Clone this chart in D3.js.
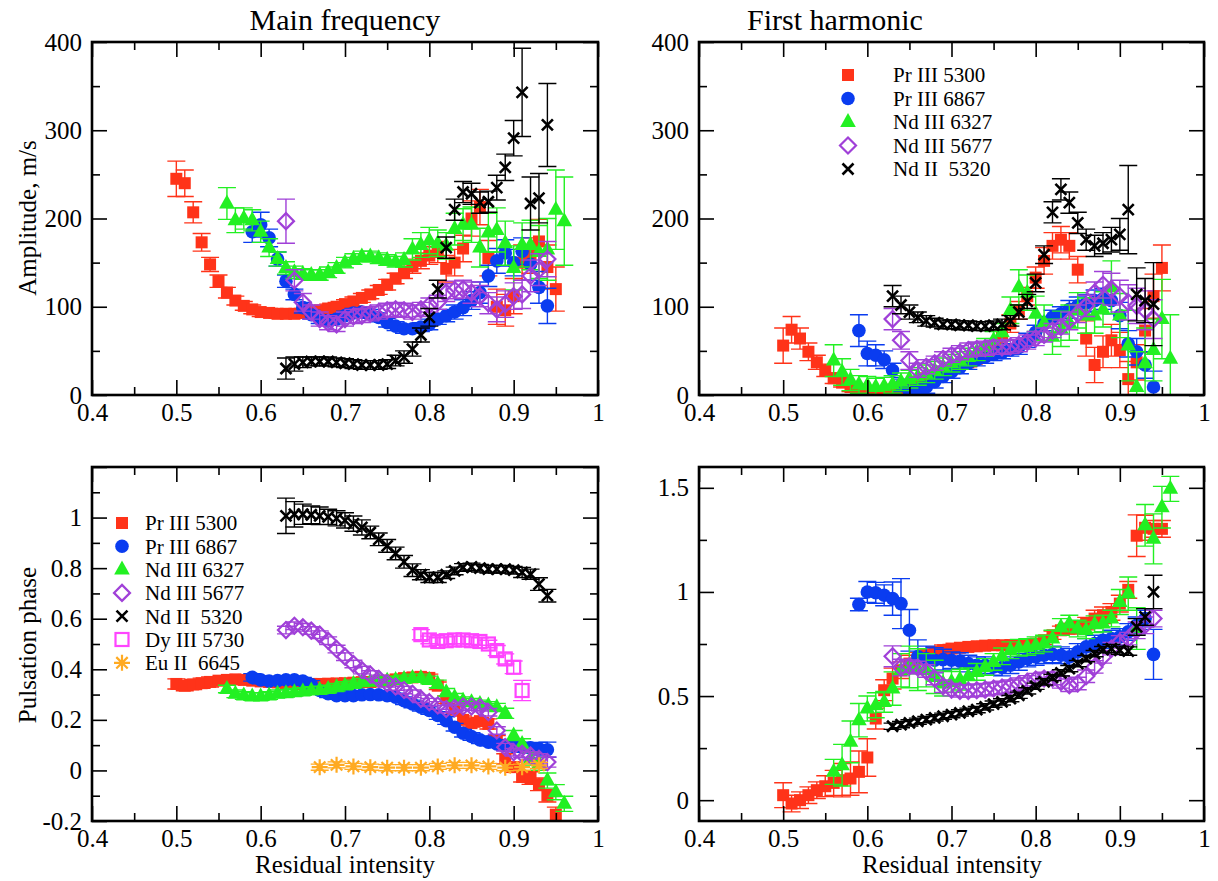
<!DOCTYPE html>
<html><head><meta charset="utf-8">
<script src="https://cdn.jsdelivr.net/npm/d3@7"></script>
<style>body{margin:0;background:#fff}</style>
</head><body><svg id="c" width="1218" height="881"></svg>
<script>
// ---------- x grids (residual intensity) ----------
const xPr5300 = [0.50,0.51,0.52,0.53,0.54,0.55,0.56,0.57,0.58,0.59,0.60,0.61,0.62,0.63,0.64,0.65,0.66,0.67,0.68,0.69,0.70,0.71,0.72,0.73,0.74,0.75,0.76,0.77,0.78,0.79,0.80,0.81,0.82,0.83,0.84,0.85,0.86,0.87,0.88,0.89,0.90,0.91,0.92,0.93,0.94,0.95];
const xPr6867 = [0.59,0.60,0.61,0.62,0.63,0.64,0.65,0.66,0.67,0.68,0.69,0.70,0.71,0.72,0.73,0.74,0.75,0.76,0.77,0.78,0.79,0.80,0.81,0.82,0.83,0.84,0.85,0.86,0.87,0.88,0.89,0.90,0.91,0.92,0.93,0.94];
const xNd6327 = [0.56,0.57,0.58,0.59,0.60,0.61,0.62,0.63,0.64,0.65,0.66,0.67,0.68,0.69,0.70,0.71,0.72,0.73,0.74,0.75,0.76,0.77,0.78,0.79,0.80,0.81,0.82,0.83,0.84,0.85,0.86,0.87,0.88,0.89,0.90,0.91,0.92,0.93,0.94,0.95,0.96];
const xNd5677 = [0.63,0.64,0.65,0.66,0.67,0.68,0.69,0.70,0.71,0.72,0.73,0.74,0.75,0.76,0.77,0.78,0.79,0.80,0.81,0.82,0.83,0.84,0.85,0.86,0.87,0.88,0.89,0.90,0.91,0.92,0.93,0.94];
const xNd5320 = [0.63,0.64,0.65,0.66,0.67,0.68,0.69,0.70,0.71,0.72,0.73,0.74,0.75,0.76,0.77,0.78,0.79,0.80,0.81,0.82,0.83,0.84,0.85,0.86,0.87,0.88,0.89,0.90,0.91,0.92,0.93,0.94];
const xDy5730 = [0.79,0.80,0.81,0.82,0.83,0.84,0.85,0.86,0.87,0.88,0.89,0.90,0.91];
const xEu6645 = [0.67,0.69,0.71,0.73,0.75,0.77,0.79,0.81,0.83,0.85,0.87,0.89,0.91,0.93];

// ---------- Amplitude, main frequency ----------
const ampMain_Pr5300 = [245,240,207,173,148,129,116,107,101,97, 94,93,92,92,92,93,94,96,98,100, 103,106,110,114,119,125,132,139,146,152, 158,162,143,150,166,200,213,155,100,96, 112,150,158,174,145,120];
const ampMain_Pr5300_err = [20,15,12,10,8,7,6,5,5,5, 5,5,5,5,5,5,5,5,5,5, 5,5,5,5,5,6,6,7,8,9, 10,12,15,15,15,20,20,20,20,18, 20,20,20,25,25,25];
const ampMain_Pr6867 = [185,193,178,154,129,114,99,91,86,84, 86,90,93,94,92,88,82,78,75,75, 77,80,86,90,94,99,107,116,135,152, 161,150,163,148,122,101];
const ampMain_Pr6867_err = [12,14,10,8,7,6,6,5,5,5, 5,5,5,5,5,5,5,5,5,5, 5,6,6,7,8,9,10,12,12,14, 15,15,15,18,18,20];
const ampMain_Nd6327 = [217,198,200,198,185,167,154,144,139,137, 136,136,139,144,150,154,157,157,155,153, 151,153,165,170,175,172,169,188,193,193, 167,184,187,172,144,170,170,162,165,210, 197];
const ampMain_Nd6327_err = [18,14,12,12,12,10,8,7,7,6, 6,6,6,6,6,6,6,6,6,6, 6,8,12,14,15,15,15,18,18,20, 22,22,25,25,25,25,28,30,35,45, 50];
const ampMain_Nd5677 = [197,130,105,94,86,82,80,86,89,90, 92,94,96,97,96,94,97,102,105,116, 119,120,116,112,104,97,103,112,114,135, 142,154];
const ampMain_Nd5677_err = [25,12,10,8,8,8,8,8,8,8, 8,8,8,8,8,8,8,8,8,10, 10,10,12,12,12,14,15,15,16,18, 18,20];
const ampMain_Nd5320 = [30,35,37,38,38,38,37,36,35,34, 34,34,35,39,43,52,68,88,120,167, 210,230,228,218,219,235,258,291,343,217, 223,306];
const ampMain_Nd5320_err = [12,8,6,5,5,5,5,5,5,5, 5,5,5,6,7,8,8,10,10,12, 12,12,12,12,12,14,15,20,50,30, 28,47];

// ---------- Amplitude, first harmonic ----------
const ampHarm_Pr5300 = [56,74,64,49,37,28,19,14,9,6, 3,2,3,6,8,11,15,19,22,26, 30,34,37,41,47,53,66,81,96,112, 133,152,169,176,169,142,64,34,49,62, 51,18,37,73,112,144];
const ampHarm_Pr5300_err = [20,15,12,10,8,7,6,5,5,5, 5,5,5,5,5,5,5,5,5,5, 5,5,5,5,6,7,8,10,10,10, 12,15,15,15,15,15,20,20,18,18, 20,20,20,25,25,26];
const ampHarm_Pr6867 = [73,47,45,40,28,11,4,6,9,15, 21,26,31,36,40,43,46,48,51,54, 62,71,81,88,92,97,101,104,107,109, 107,90,58,49,34,9];
const ampHarm_Pr6867_err = [18,14,12,10,8,7,7,7,7,7, 7,7,7,7,7,7,7,7,7,8, 8,8,8,8,8,10,10,10,12,12, 15,15,15,15,15,18];
const ampHarm_Nd6327 = [39,26,17,12,11,9,10,12,15,18, 21,24,28,32,36,39,43,49,54,62, 71,96,122,116,92,82,66,75,82,96, 90,90,97,122,90,56,9,36,51,86, 41];
const ampHarm_Nd6327_err = [18,15,12,10,10,10,10,10,10,10, 10,10,10,10,10,10,10,10,10,10, 10,15,20,20,20,20,20,20,20,20, 20,20,20,30,25,40,40,40,35,45, 50];
const ampHarm_Nd5677 = [86,62,39,28,32,36,41,45,48,51, 52,53,54,54,55,57,60,64,68,73, 77,84,92,101,116,125,120,112,105,101, 96,86];
const ampHarm_Nd5677_err = [12,10,10,8,8,8,8,8,8,8, 8,8,8,8,8,8,8,8,8,8, 8,10,10,12,12,15,18,18,20,20, 22,22];
const ampHarm_Nd5320 = [112,102,94,88,84,82,80,80,79,79, 78,78,79,80,84,94,106,127,159,207, 233,218,195,176,169,172,176,182,210,114, 107,103];
const ampHarm_Nd5320_err = [12,10,8,6,6,5,5,5,5,5, 5,5,5,6,6,8,8,10,10,12, 12,12,12,12,12,12,14,18,50,30, 25,47];

// ---------- Pulsation phase, main frequency ----------
const phaseMain_Pr5300 = [0.342,0.335,0.34,0.345,0.35,0.355,0.358,0.36,0.358,0.355, 0.352,0.35,0.348,0.345,0.343,0.342,0.342,0.342,0.343,0.344, 0.345,0.347,0.349,0.35,0.352,0.355,0.36,0.365,0.368,0.37, 0.366,0.335,0.28,0.24,0.2,0.187,0.195,0.184,0.118,0.046, 0.013,-0.026,-0.03,-0.055,-0.1,-0.175];
const phaseMain_Pr5300_err = [0.02,0.02,0.02,0.02,0.02,0.015,0.015,0.015,0.015,0.015, 0.015,0.015,0.015,0.015,0.015,0.015,0.015,0.015,0.015,0.015, 0.015,0.015,0.015,0.015,0.015,0.015,0.015,0.015,0.015,0.015, 0.015,0.015,0.015,0.015,0.015,0.015,0.015,0.02,0.02,0.02, 0.02,0.02,0.025,0.025,0.025,0.03];
const phaseMain_Pr6867 = [0.368,0.358,0.353,0.355,0.358,0.358,0.353,0.34,0.316,0.303, 0.296,0.296,0.296,0.299,0.30,0.299,0.296,0.29,0.276,0.263, 0.25,0.237,0.217,0.197,0.171,0.147,0.134,0.121,0.112,0.105, 0.099,0.095,0.092,0.089,0.086,0.082];
const phaseMain_Pr6867_err = [0.015,0.015,0.015,0.015,0.015,0.015,0.015,0.015,0.015,0.015, 0.015,0.015,0.015,0.015,0.015,0.015,0.015,0.015,0.015,0.015, 0.015,0.015,0.015,0.015,0.015,0.015,0.015,0.015,0.015,0.015, 0.02,0.02,0.02,0.02,0.025,0.03];
const phaseMain_Nd6327 = [0.322,0.303,0.296,0.292,0.292,0.296,0.303,0.305,0.309,0.312, 0.316,0.318,0.322,0.329,0.336,0.342,0.349,0.351,0.355,0.355, 0.358,0.362,0.366,0.366,0.358,0.342,0.309,0.289,0.276,0.27, 0.263,0.257,0.25,0.226,0.138,0.105,0.046,0.026,-0.04,-0.086, -0.132];
const phaseMain_Nd6327_err = [0.015,0.015,0.015,0.015,0.015,0.015,0.015,0.015,0.015,0.015, 0.015,0.015,0.015,0.015,0.015,0.015,0.015,0.015,0.015,0.015, 0.015,0.015,0.015,0.015,0.015,0.015,0.015,0.015,0.015,0.015, 0.015,0.015,0.015,0.02,0.02,0.02,0.025,0.025,0.03,0.03, 0.03];
const phaseMain_Nd5677 = [0.555,0.572,0.566,0.553,0.537,0.513,0.48,0.45,0.421,0.397, 0.379,0.362,0.345,0.332,0.318,0.303,0.283,0.27,0.257,0.243, 0.247,0.253,0.253,0.25,0.23,0.158,0.092,0.072,0.066,0.059, 0.046,0.033];
const phaseMain_Nd5677_err = [0.015,0.015,0.015,0.015,0.015,0.015,0.015,0.015,0.015,0.015, 0.015,0.015,0.015,0.015,0.015,0.015,0.015,0.015,0.015,0.015, 0.015,0.015,0.015,0.015,0.015,0.015,0.015,0.015,0.015,0.015, 0.02,0.02];
const phaseMain_Nd5320 = [1.007,1.013,1.013,1.011,1.007,1.003,0.997,0.989,0.976,0.961, 0.941,0.914,0.888,0.858,0.825,0.792,0.774,0.763,0.763,0.774, 0.789,0.803,0.805,0.80,0.796,0.796,0.796,0.792,0.783,0.776, 0.737,0.691];
const phaseMain_Nd5320_err = [0.07,0.05,0.04,0.035,0.035,0.03,0.03,0.03,0.03,0.03, 0.025,0.025,0.025,0.025,0.025,0.025,0.02,0.02,0.02,0.015, 0.015,0.015,0.015,0.015,0.015,0.015,0.015,0.015,0.02,0.02, 0.025,0.025];
const phaseMain_Dy5730 = [0.537,0.516,0.51,0.513,0.516,0.516,0.513,0.51,0.5,0.474,0.441,0.408,0.316];
const phaseMain_Dy5730_err = [0.02,0.015,0.015,0.015,0.015,0.015,0.015,0.015,0.015,0.02,0.02,0.025,0.04];
const phaseMain_Eu6645 = [0.013,0.022,0.016,0.013,0.011,0.011,0.011,0.016,0.02,0.02,0.016,0.011,0.013,0.02];
const phaseMain_Eu6645_err = [0.012,0.012,0.012,0.012,0.012,0.012,0.012,0.012,0.012,0.012,0.012,0.012,0.012,0.012];

// ---------- Pulsation phase, first harmonic ----------
const phaseHarm_Pr5300 = [0.024,-0.016,0.0,0.024,0.048,0.067,0.083,0.096,0.104,0.136, 0.205,0.392,0.528,0.584,0.624,0.656,0.68,0.696,0.707,0.72, 0.728,0.732,0.736,0.739,0.742,0.744,0.744,0.745,0.745,0.747, 0.752,0.768,0.792,0.816,0.824,0.828,0.848,0.872,0.888,0.904, 0.944,1.01,1.27,1.308,1.303,1.303];
const phaseHarm_Pr5300_err = [0.06,0.04,0.04,0.04,0.04,0.05,0.06,0.08,0.08,0.1, 0.09,0.05,0.05,0.05,0.04,0.04,0.03,0.03,0.03,0.025, 0.02,0.02,0.02,0.02,0.02,0.02,0.02,0.02,0.02,0.02, 0.02,0.02,0.02,0.02,0.02,0.03,0.03,0.04,0.04,0.04, 0.04,0.04,0.1,0.06,0.04,0.04];
const phaseHarm_Pr6867 = [0.94,1.0,0.996,0.984,0.968,0.944,0.816,0.69,0.68,0.672, 0.675,0.672,0.668,0.656,0.648,0.648,0.64,0.637,0.648,0.664, 0.68,0.688,0.696,0.70,0.696,0.688,0.712,0.736,0.752,0.768, 0.776,0.784,0.808,0.84,0.872,0.70];
const phaseHarm_Pr6867_err = [0.03,0.05,0.05,0.05,0.08,0.12,0.1,0.08,0.06,0.06, 0.05,0.04,0.04,0.04,0.04,0.04,0.04,0.04,0.04,0.04, 0.04,0.04,0.04,0.04,0.04,0.04,0.04,0.04,0.04,0.04, 0.04,0.04,0.04,0.04,0.04,0.12];
const phaseHarm_Nd6327 = [0.136,0.168,0.28,0.384,0.44,0.456,0.472,0.536,0.624,0.64, 0.627,0.624,0.592,0.56,0.568,0.579,0.595,0.616,0.64,0.664, 0.691,0.72,0.732,0.736,0.744,0.752,0.776,0.832,0.848,0.824, 0.816,0.845,0.848,0.872,0.952,0.992,0.824,1.32,1.255,1.407, 1.495];
const phaseHarm_Nd6327_err = [0.06,0.1,0.1,0.08,0.06,0.06,0.05,0.08,0.08,0.1, 0.1,0.08,0.08,0.06,0.05,0.05,0.04,0.04,0.04,0.04, 0.04,0.04,0.04,0.04,0.04,0.04,0.04,0.04,0.04,0.04, 0.04,0.04,0.04,0.04,0.06,0.08,0.1,0.1,0.12,0.1, 0.06];
const phaseHarm_Nd5677 = [0.691,0.637,0.643,0.637,0.62,0.584,0.547,0.531,0.525,0.525, 0.528,0.531,0.536,0.541,0.547,0.557,0.568,0.579,0.584,0.584, 0.568,0.552,0.56,0.595,0.64,0.688,0.728,0.76,0.776,0.816, 0.84,0.872];
const phaseHarm_Nd5677_err = [0.05,0.04,0.03,0.03,0.03,0.03,0.03,0.03,0.03,0.03, 0.03,0.03,0.03,0.03,0.03,0.03,0.03,0.03,0.03,0.03, 0.03,0.03,0.03,0.03,0.03,0.03,0.03,0.03,0.03,0.04, 0.04,0.04];
const phaseHarm_Nd5320 = [0.355,0.363,0.371,0.379,0.387,0.395,0.403,0.411,0.419,0.427, 0.435,0.448,0.461,0.472,0.488,0.504,0.525,0.547,0.568,0.589, 0.611,0.632,0.656,0.68,0.704,0.723,0.728,0.72,0.716,0.832, 0.88,1.0];
const phaseHarm_Nd5320_err = [0.015,0.015,0.015,0.015,0.015,0.015,0.015,0.015,0.015,0.015, 0.015,0.015,0.015,0.015,0.015,0.015,0.015,0.015,0.015,0.015, 0.015,0.015,0.015,0.015,0.015,0.015,0.02,0.02,0.02,0.04, 0.04,0.08];

// ---------- axes / labels ----------
const xMajor = [0.4,0.5,0.6,0.7,0.8,0.9,1.0];
const xMinor = [0.45,0.55,0.65,0.75,0.85,0.95];
const ampMajor = [0,100,200,300,400];
const ampMinor = [50,150,250,350];
const phMainMajor = [-0.2,0,0.2,0.4,0.6,0.8,1.0,1.2];
const phMainLabeled = [-0.2,0,0.2,0.4,0.6,0.8,1.0];
const phMainMinor = [-0.1,0.1,0.3,0.5,0.7,0.9,1.1];
const phHarmMajor = [0,0.5,1.0,1.5];
const phHarmMinor = [0.25,0.75,1.25];
const titles = ["Main frequency", "First harmonic"];
const yTitles = ["Amplitude, m/s", "Pulsation phase"];
const xTitle = "Residual intensity";
const legendTR = ["Pr III 5300","Pr III 6867","Nd III 6327","Nd III 5677","Nd II  5320"];
const legendBL = ["Pr III 5300","Pr III 6867","Nd III 6327","Nd III 5677","Nd II  5320","Dy III 5730","Eu II  6645"];

// ---------- styles ----------
const FONT = "'Liberation Serif','Times New Roman',Times,serif";
const style = {
  Pr5300:{color:'#ff3319', marker:'square'},
  Pr6867:{color:'#0a3cf0', marker:'circle'},
  Nd6327:{color:'#22f022', marker:'triangle'},
  Nd5677:{color:'#a040d8', marker:'diamond'},
  Nd5320:{color:'#000000', marker:'x'},
  Dy5730:{color:'#ff44ff', marker:'osquare'},
  Eu6645:{color:'#ffaa22', marker:'star'}
};

function drawMarker(g, type, color){
  switch(type){
    case 'square': g.append('rect').attr('x',-6).attr('y',-6).attr('width',12).attr('height',12).attr('fill',color); break;
    case 'circle': g.append('circle').attr('r',6.8).attr('fill',color); break;
    case 'triangle': g.append('path').attr('d','M0,-9L7.8,5L-7.8,5Z').attr('fill',color); break;
    case 'diamond': g.append('path').attr('d','M0,-8L8,0L0,8L-8,0Z').attr('fill','none').attr('stroke',color).attr('stroke-width',2.2); break;
    case 'x': g.append('path').attr('d','M-5.5,-5.5L5.5,5.5M-5.5,5.5L5.5,-5.5').attr('stroke',color).attr('stroke-width',2.6); break;
    case 'osquare': g.append('rect').attr('x',-6.5).attr('y',-6.5).attr('width',13).attr('height',13).attr('fill','none').attr('stroke',color).attr('stroke-width',2.2); break;
    case 'star': g.append('path').attr('d','M-8,0L8,0M0,-8L0,8M-5.7,-5.7L5.7,5.7M-5.7,5.7L5.7,-5.7').attr('stroke',color).attr('stroke-width',2.2); break;
  }
}

const svg = d3.select('#c');
svg.append('rect').attr('width',1218).attr('height',881).attr('fill','#fff');

const hyph = s => s.replace('\u2212','-');
const panels = [
  {left:92,right:598,top:42,bottom:395,yDom:[0,400],yMaj:ampMajor,yLab:ampMajor,yMin:ampMinor,fmt:d=>String(d),
   series:[['Pr5300',xPr5300,ampMain_Pr5300,ampMain_Pr5300_err],['Pr6867',xPr6867,ampMain_Pr6867,ampMain_Pr6867_err],['Nd6327',xNd6327,ampMain_Nd6327,ampMain_Nd6327_err],['Nd5677',xNd5677,ampMain_Nd5677,ampMain_Nd5677_err],['Nd5320',xNd5320,ampMain_Nd5320,ampMain_Nd5320_err]]},
  {left:699,right:1204,top:42,bottom:395,yDom:[0,400],yMaj:ampMajor,yLab:ampMajor,yMin:ampMinor,fmt:d=>String(d),
   series:[['Pr5300',xPr5300,ampHarm_Pr5300,ampHarm_Pr5300_err],['Pr6867',xPr6867,ampHarm_Pr6867,ampHarm_Pr6867_err],['Nd6327',xNd6327,ampHarm_Nd6327,ampHarm_Nd6327_err],['Nd5677',xNd5677,ampHarm_Nd5677,ampHarm_Nd5677_err],['Nd5320',xNd5320,ampHarm_Nd5320,ampHarm_Nd5320_err]]},
  {left:92,right:598,top:467,bottom:821,yDom:[-0.2,1.2],yMaj:phMainMajor,yLab:phMainLabeled,yMin:phMainMinor,fmt:d=>d===1?'1':d===0?'0':hyph(d3.format('.1f')(d)),
   series:[['Pr5300',xPr5300,phaseMain_Pr5300,phaseMain_Pr5300_err],['Pr6867',xPr6867,phaseMain_Pr6867,phaseMain_Pr6867_err],['Nd6327',xNd6327,phaseMain_Nd6327,phaseMain_Nd6327_err],['Nd5677',xNd5677,phaseMain_Nd5677,phaseMain_Nd5677_err],['Nd5320',xNd5320,phaseMain_Nd5320,phaseMain_Nd5320_err],['Dy5730',xDy5730,phaseMain_Dy5730,phaseMain_Dy5730_err],['Eu6645',xEu6645,phaseMain_Eu6645,phaseMain_Eu6645_err]]},
  {left:699,right:1204,top:467,bottom:821,yDom:[-0.1,1.6],yMaj:phHarmMajor,yLab:phHarmMajor,yMin:phHarmMinor,fmt:d=>d3.format('~g')(d),
   series:[['Pr5300',xPr5300,phaseHarm_Pr5300,phaseHarm_Pr5300_err],['Pr6867',xPr6867,phaseHarm_Pr6867,phaseHarm_Pr6867_err],['Nd6327',xNd6327,phaseHarm_Nd6327,phaseHarm_Nd6327_err],['Nd5677',xNd5677,phaseHarm_Nd5677,phaseHarm_Nd5677_err],['Nd5320',xNd5320,phaseHarm_Nd5320,phaseHarm_Nd5320_err]]}
];

const MAJ=15, MIN=8, CAP=9;
panels.forEach((p,i)=>{
  const x = d3.scaleLinear().domain([0.4,1.0]).range([p.left,p.right]);
  const y = d3.scaleLinear().domain(p.yDom).range([p.bottom,p.top]);
  const clipId = 'clip'+i;
  svg.append('clipPath').attr('id',clipId).append('rect')
    .attr('x',p.left).attr('y',p.top).attr('width',p.right-p.left).attr('height',p.bottom-p.top);
  const plot = svg.append('g').attr('clip-path',`url(#${clipId})`);
  p.series.forEach(([key,xs,ys,es])=>{
    const st = style[key];
    const sg = plot.append('g');
    xs.forEach((xv,j)=>{
      const cx = x(xv), y1 = y(ys[j]-es[j]), y2 = y(ys[j]+es[j]);
      sg.append('path').attr('d',`M${cx},${y1}L${cx},${y2}M${cx-CAP},${y1}L${cx+CAP},${y1}M${cx-CAP},${y2}L${cx+CAP},${y2}`)
        .attr('stroke',st.color).attr('stroke-width',1.4).attr('fill','none');
    });
    xs.forEach((xv,j)=>{
      const mg = sg.append('g').attr('transform',`translate(${x(xv)},${y(ys[j])})`);
      drawMarker(mg, st.marker, st.color);
    });
  });
  // axes
  const axG = svg.append('g');
  function styleAxis(g){ g.select('.domain').remove(); g.attr('font-family',FONT).attr('font-size',25); g.selectAll('line').attr('stroke','#000').attr('stroke-width',1.6); g.selectAll('text').attr('font-family',FONT).attr('font-size',25).attr('fill','#000'); }
  axG.append('g').attr('transform',`translate(0,${p.bottom})`)
    .call(d3.axisBottom(x).tickValues(xMajor).tickSize(-MAJ).tickPadding(8).tickFormat(d=>d===1?'1':d3.format('.1f')(d))).call(styleAxis);
  axG.append('g').attr('transform',`translate(0,${p.bottom})`)
    .call(d3.axisBottom(x).tickValues(xMinor).tickSize(-MIN).tickFormat('')).call(styleAxis);
  axG.append('g').attr('transform',`translate(0,${p.top})`)
    .call(d3.axisTop(x).tickValues(xMajor).tickSize(-MAJ).tickFormat('')).call(styleAxis);
  axG.append('g').attr('transform',`translate(0,${p.top})`)
    .call(d3.axisTop(x).tickValues(xMinor).tickSize(-MIN).tickFormat('')).call(styleAxis);
  axG.append('g').attr('transform',`translate(${p.left},0)`)
    .call(d3.axisLeft(y).tickValues(p.yMaj).tickSize(-MAJ).tickPadding(10).tickFormat(d=>p.yLab.includes(d)?p.fmt(d):'')).call(styleAxis);
  axG.append('g').attr('transform',`translate(${p.left},0)`)
    .call(d3.axisLeft(y).tickValues(p.yMin).tickSize(-MIN).tickFormat('')).call(styleAxis);
  axG.append('g').attr('transform',`translate(${p.right},0)`)
    .call(d3.axisRight(y).tickValues(p.yMaj).tickSize(-MAJ).tickFormat('')).call(styleAxis);
  axG.append('g').attr('transform',`translate(${p.right},0)`)
    .call(d3.axisRight(y).tickValues(p.yMin).tickSize(-MIN).tickFormat('')).call(styleAxis);
  svg.append('rect').attr('x',p.left).attr('y',p.top).attr('width',p.right-p.left).attr('height',p.bottom-p.top)
    .attr('fill','none').attr('stroke','#000').attr('stroke-width',2.6);
});

// titles
svg.append('text').attr('x',345).attr('y',30).attr('text-anchor','middle').attr('font-family',FONT).attr('font-size',30).text(titles[0]);
svg.append('text').attr('x',835).attr('y',30).attr('text-anchor','middle').attr('font-family',FONT).attr('font-size',30).text(titles[1]);
svg.append('text').attr('transform','translate(36,218) rotate(-90)').attr('text-anchor','middle').attr('font-family',FONT).attr('font-size',25).text(yTitles[0]);
svg.append('text').attr('transform','translate(36,645) rotate(-90)').attr('text-anchor','middle').attr('font-family',FONT).attr('font-size',25).text(yTitles[1]);
svg.append('text').attr('x',345).attr('y',873).attr('text-anchor','middle').attr('font-family',FONT).attr('font-size',25).text(xTitle);
svg.append('text').attr('x',952).attr('y',873).attr('text-anchor','middle').attr('font-family',FONT).attr('font-size',25).text(xTitle);

// legends
const legKeysTR = ['Pr5300','Pr6867','Nd6327','Nd5677','Nd5320'];
const legKeysBL = ['Pr5300','Pr6867','Nd6327','Nd5677','Nd5320','Dy5730','Eu6645'];
function legend(keys, labels, sx, tx, y0, dy){
  keys.forEach((k,i)=>{
    const yy = y0 + i*dy;
    drawMarker(svg.append('g').attr('transform',`translate(${sx},${yy})`), style[k].marker, style[k].color);
    svg.append('text').attr('x',tx).attr('y',yy).attr('dy','0.35em').attr('font-family',FONT).attr('font-size',21)
      .style('white-space','pre').text(labels[i]);
  });
}
legend(legKeysTR, legendTR, 848, 893, 75, 23.5);
legend(legKeysBL, legendBL, 122, 145, 523, 23.3);
</script></body></html>
